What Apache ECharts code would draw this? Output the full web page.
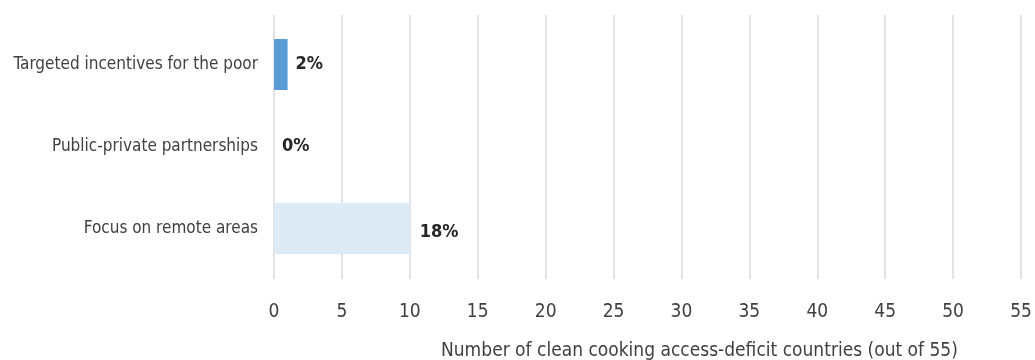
<!DOCTYPE html>
<html>
<head>
<meta charset="utf-8">
<script src="https://cdn.jsdelivr.net/npm/echarts@6/dist/echarts.min.js"></script>
<style>
  html, body { margin: 0; padding: 0; background: #fff; }
  #chart { width: 1035px; height: 360px; }
</style>
</head>
<body>
<div id="chart"></div>
<script>
const CATEGORIES = [
  "Focus on remote areas",
  "Public-private partnerships",
  "Targeted incentives for the poor",
];
const COUNTS = [10, 0, 1];
const SHARES = ["18%", "0%", "2%"];
const BAR_COLORS = ["#ddebf7", "#5b9bd5", "#5b9bd5"];
const X_MAX = 55;
const X_STEP = 5;

const FONT = "'Liberation Sans Narrow', 'DejaVu Sans Condensed', sans-serif";

const chart = echarts.init(document.getElementById("chart"));

chart.setOption({
  animation: false,
  title: {
    text: "Number of clean cooking access-deficit countries (out of 55)",
    left: 436,
    top: 337,
    textStyle: { fontFamily: FONT, fontSize: 19, fontWeight: "normal", color: "#404040" },
  },
  grid: [
    { left: 274, right: 14, top: 23.5, bottom: 90.5, outerBoundsMode: "none", containLabel: false },
    { left: 274, right: 14, top: 15, bottom: 81, outerBoundsMode: "none", containLabel: false },
  ],
  xAxis: [
    {
      gridIndex: 0,
      type: "value",
      min: 0,
      max: X_MAX,
      interval: X_STEP,
      show: false,
    },
    {
      gridIndex: 1,
      type: "value",
      min: 0,
      max: X_MAX,
      interval: X_STEP,
      axisLine: { show: false },
      axisTick: { show: false },
      splitLine: { lineStyle: { color: "#d9d9d9", width: 1.5 } },
      axisLabel: { fontFamily: FONT, fontSize: 19, color: "#404040", margin: 24 },
    },
  ],
  yAxis: [
    {
      gridIndex: 0,
      type: "category",
      data: CATEGORIES,
      axisLine: { show: false },
      axisTick: { show: false },
      axisLabel: { fontFamily: FONT, fontSize: 17, color: "#404040", margin: 16 },
    },
    {
      gridIndex: 1,
      type: "category",
      data: CATEGORIES,
      show: false,
    },
  ],
  series: [
    {
      type: "bar",
      xAxisIndex: 0,
      yAxisIndex: 0,
      barWidth: 51,
      data: COUNTS.map((v, i) => ({
        value: v,
        itemStyle: { color: BAR_COLORS[i] },
        label: i === 0 ? { offset: [2, 4] } : {},
      })),
      label: {
        show: true,
        position: "right",
        distance: 8,
        formatter: (p) => SHARES[p.dataIndex],
        fontFamily: FONT,
        fontSize: 18,
        fontWeight: "bold",
        color: "#262626",
      },
    },
  ],
});
</script>
</body>
</html>
